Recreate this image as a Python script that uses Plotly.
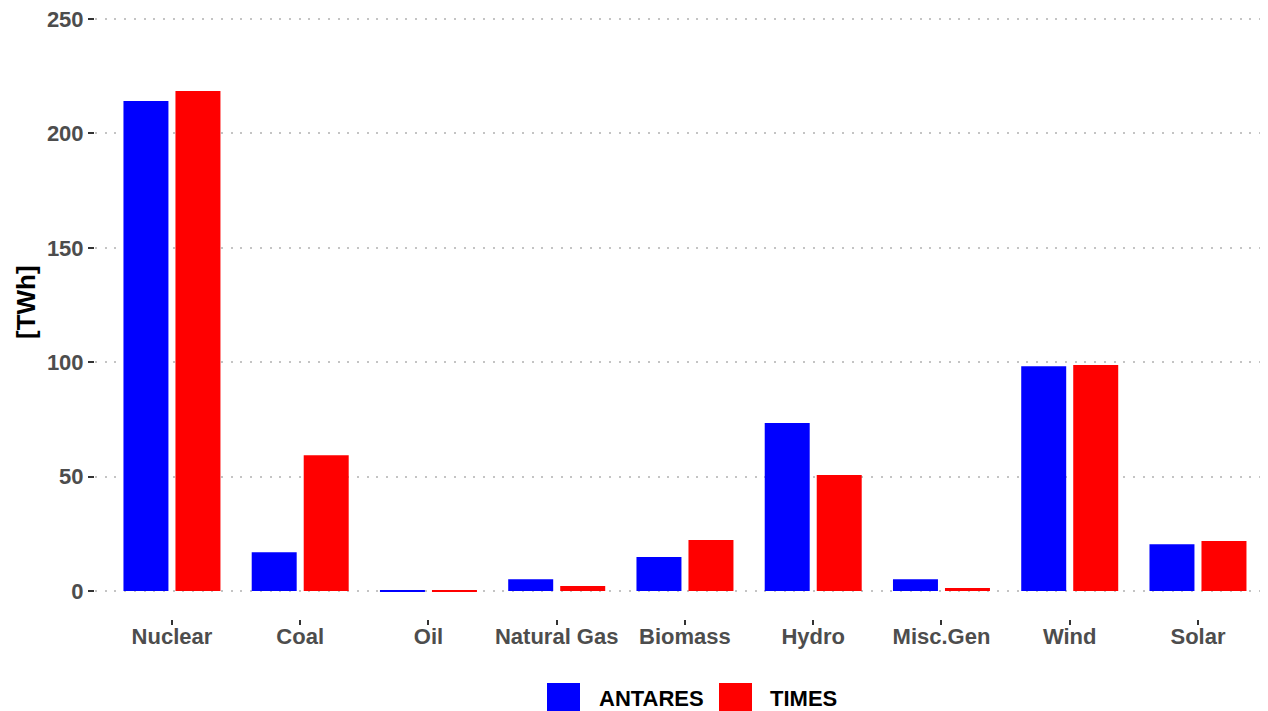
import plotly.graph_objects as go

categories = ["Nuclear", "Coal", "Oil", "Natural Gas", "Biomass", "Hydro", "Misc.Gen", "Wind", "Solar"]
antares = [214.2, 17.0, 0.3, 5.2, 14.9, 73.4, 5.2, 98.3, 20.5]
times = [218.5, 59.4, 0.5, 2.2, 22.3, 50.7, 1.3, 98.8, 21.9]
series_names = ["ANTARES", "TIMES"]
series_colors = ["#0000FF", "#FF0000"]
y_ticks = [0, 50, 100, 150, 200, 250]

FONT = "Liberation Sans, Arial, sans-serif"

# page has an 8px body margin, so the figure is 8px smaller than the window
W, H = 1260, 703
L, R, T, B = 87, 0, 0, 92
PW, PH = W - L - R, H - T - B

fig = go.Figure()
for name, vals, col in zip(series_names, [antares, times], series_colors):
    fig.add_trace(go.Bar(x=categories, y=vals, name=name, marker=dict(color=col, line=dict(width=0)),
                         showlegend=False))

fig.update_layout(
    width=W, height=H,
    margin=dict(l=L, r=R, t=T, b=B),
    plot_bgcolor="white", paper_bgcolor="white",
    barmode="group", bargap=0.189, bargroupgap=0.135,
    font=dict(family=FONT),
    xaxis=dict(
        range=[-0.6, 8.546], showgrid=False, zeroline=False, showline=False,
        ticks="outside", ticklen=5, tickwidth=1.5, tickcolor="#333333",
        tickfont=dict(family=FONT, size=22, color="#4D4D4D", weight="bold"),
        ticklabelstandoff=-7,
    ),
    yaxis=dict(
        range=[-12.2, 254.8], tickvals=y_ticks, showgrid=True, gridcolor="#C4C4C4",
        griddash="2px,7.7px", gridwidth=2, zeroline=False, showline=False,
        ticks="outside", ticklen=6, tickwidth=1.5, tickcolor="#333333",
        tickfont=dict(family=FONT, size=22, color="#4D4D4D", weight="bold"),
        ticklabeloverflow="allow",
    ),
)

def px_x(x):
    return (x - L) / PW

def px_y(y):
    return (H - B - y) / PH

# y-axis title
fig.add_annotation(xref="paper", yref="paper", x=px_x(18), y=px_y(294), text="[TWh]",
                   textangle=-90, showarrow=False, xanchor="center", yanchor="middle",
                   font=dict(family=FONT, size=26, color="black", weight="bold"))

# Legend drawn manually (large square keys, as in reference); positions in figure px
legend_items = [(539, 572, 589, "ANTARES"), (711, 744, 760, "TIMES")]
for (x0, x1, tx, label), col in zip(legend_items, series_colors):
    fig.add_shape(type="rect", xref="paper", yref="paper",
                  x0=px_x(x0), x1=px_x(x1), y0=px_y(703), y1=px_y(675),
                  fillcolor=col, line=dict(width=0))
    fig.add_annotation(xref="paper", yref="paper", x=px_x(tx), y=px_y(690),
                       text=label, showarrow=False, xanchor="left", yanchor="middle",
                       font=dict(family=FONT, size=22, color="black", weight="bold"))

fig.write_html("out.html")
